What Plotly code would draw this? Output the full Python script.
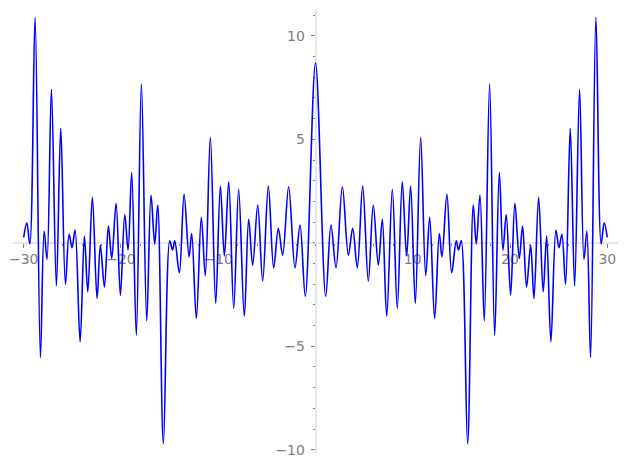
import plotly.graph_objects as go

# Right half of the curve (x >= 0): turning points.
# The curve is even, so the left half is the mirror image.
X_POS = [0.00, 1.05, 1.59, 2.11, 2.76, 3.38, 3.82, 4.30, 4.85, 5.43,
         5.94, 6.46, 6.87, 7.32, 7.90, 8.41, 8.92, 9.37, 9.78, 10.26,
         10.81, 11.33, 11.74, 12.25, 12.73, 13.00, 13.51, 14.00, 14.47, 14.70,
         14.98, 15.64, 16.22, 16.53, 16.91, 17.35, 17.90, 18.42, 18.90, 19.27,
         19.61, 20.06, 20.50, 20.95, 21.29, 21.70, 22.12, 22.46, 22.94, 23.41,
         23.76, 24.20, 24.72, 25.03, 25.33, 25.71, 26.19, 26.64, 27.15, 27.60,
         27.90, 28.28, 28.83, 29.37, 29.68, 30.00]
Y_POS = [8.69, -2.58, 0.86, -1.21, 2.71, -0.60, 0.70, -1.21, 2.74, -1.85,
         1.82, -1.08, 1.13, -3.55, 2.58, -3.17, 2.95, -0.64, 2.74, -2.93,
         5.10, -1.58, 1.23, -3.66, 0.45, -0.68, 2.34, -1.45, 0.10, -0.35,
         0.10, -9.71, 1.82, -0.06, 2.31, -3.77, 7.68, -4.47, 3.39, -0.35,
         1.37, -2.53, 1.91, -0.76, 0.81, -2.13, -0.11, -2.69, 2.20, -2.37,
         0.32, -4.79, 0.61, -0.24, 0.41, -2.00, 5.53, -2.09, 7.42, -0.80,
         0.57, -5.55, 10.90, -0.06, 0.97, 0.26]

X_TICKS = [-30, -20, -10, 10, 20, 30]
Y_TICKS = [-10, -5, 5, 10]

X_RANGE = [-31.1, 31.1]
Y_RANGE = [-10.16, 11.3]

xs = [-v for v in reversed(X_POS[1:])] + X_POS
ys = list(reversed(Y_POS[1:])) + Y_POS

SPINE = '#e6e6e6'
TICK_C = '#808080'
FONT = 'DejaVu Sans, Verdana, sans-serif'


def label(v):
    return str(v).replace('-', '\u2212')


fig = go.Figure()
fig.add_trace(go.Scatter(
    x=xs, y=ys, mode='lines',
    line=dict(color='#0000ff', width=1.6, shape='spline', smoothing=1.0),
    showlegend=False, hoverinfo='skip',
))

axis_common = dict(
    anchor='free', showline=True, linecolor=SPINE, linewidth=1.5,
    showgrid=False, zeroline=False, automargin=False,
    ticks='outside', ticklen=4, tickwidth=1, tickcolor=TICK_C,
    tickfont=dict(family=FONT, size=14, color=TICK_C),
    layer='below traces',
)

fig.update_layout(
    width=627, height=469,
    margin=dict(l=13, r=9, t=9, b=16),
    paper_bgcolor='white', plot_bgcolor='white',
    xaxis=dict(
        range=X_RANGE,
        position=(0 - Y_RANGE[0]) / (Y_RANGE[1] - Y_RANGE[0]),
        tickvals=X_TICKS, ticktext=[label(v) for v in X_TICKS],
        minor=dict(dtick=2, tick0=0, ticks='outside', ticklen=2, tickcolor=TICK_C),
        **axis_common,
    ),
    yaxis=dict(
        range=Y_RANGE,
        position=(0 - X_RANGE[0]) / (X_RANGE[1] - X_RANGE[0]),
        tickvals=Y_TICKS, ticktext=[label(v) for v in Y_TICKS],
        minor=dict(dtick=1, tick0=0, ticks='outside', ticklen=2, tickcolor=TICK_C),
        ticklabelstandoff=3,
        **axis_common,
    ),
)

# page body has a default 8px margin; drop it so the figure sits at 0,0
fig.write_html("out.html", config={'displayModeBar': False},
               post_script="document.body.style.margin='0';")
